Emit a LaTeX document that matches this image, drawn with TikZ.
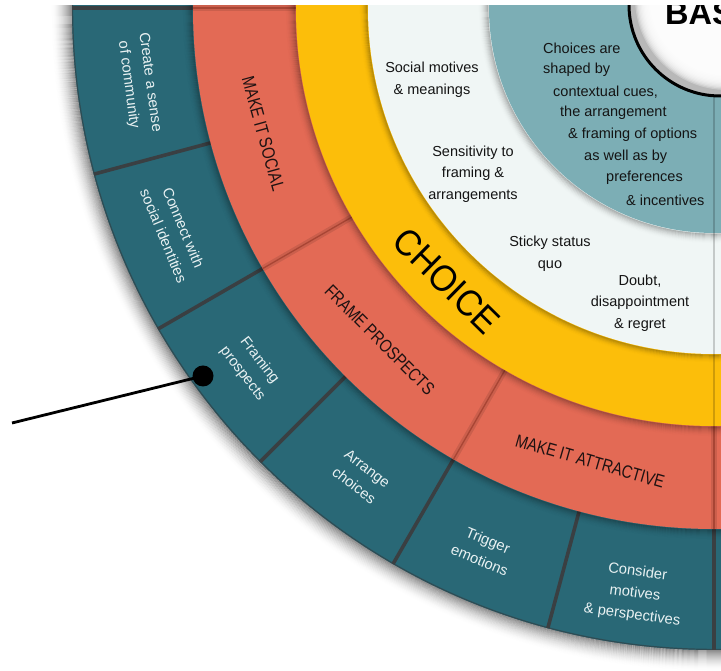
\documentclass[tikz,border=0pt]{standalone}
\usepackage{fontspec}
\setmainfont{Liberation Sans}
\newfontfamily\narrowfont[FakeStretch=0.82]{Liberation Sans}
\newfontfamily\choicefont[FakeStretch=0.92]{Liberation Sans}
\definecolor{tealout}{HTML}{296876}
\definecolor{divout}{HTML}{3A3F42}
\definecolor{rimcol}{HTML}{2E4C54}
\definecolor{coral}{HTML}{E36A55}
\definecolor{reddiv}{HTML}{A84534}
\definecolor{yell}{HTML}{FCBE0A}
\definecolor{whitering}{HTML}{F0F6F5}
\definecolor{tealin}{HTML}{7CAEB5}
\definecolor{wtext}{HTML}{E8F1F2}
\definecolor{rtext}{HTML}{1E1212}
\newcommand\ringshadow[2]{%
  \foreach \i in {1,...,#2}{\pgfmathsetmacro\op{0.3*(1-\i/(#2+1))^2}%
    \draw[black,opacity=\op,line width=1.1] (0,0) circle ({#1+\i});}}
\tikzset{
  outtext/.style={font=\fontsize{14.8}{21.5}\selectfont, text=wtext, align=center, inner sep=0},
  redtext/.style={font=\narrowfont\fontsize{18}{20}\selectfont, text=rtext, inner sep=0},
  intext/.style={font=\fontsize{14.5}{21.5}\selectfont, text=black!92, align=center, inner sep=0},
  inline/.style={font=\fontsize{14.5}{21.5}\selectfont, text=black!92, anchor=west, inner sep=0},
  dividerout/.style={divout, line width=3.6},
  dividerred/.style={reddiv, line width=1.3},
  seam/.style={black, opacity=0.18, line width=2}
}
\begin{document}
\begin{tikzpicture}[x=1pt,y=1pt]
\useasboundingbox (0,0) rectangle (721,671);
\fill[white] (0,0) rectangle (721,671);
\begin{scope}
\clip (0,0) rectangle (721,665);
\begin{scope}[shift={(714,663)}]
  % outer drop shadow
  \foreach \i in {1,...,22}{\pgfmathsetmacro\op{0.45*(1-\i/23)^2}%
    \draw[black,opacity=\op,line width=1.1] (0,0) circle ({641+\i});}
  % outer teal ring
  \fill[tealout] (0,0) circle (642);
  \draw[rimcol, line width=1.2] (0,0) circle (641.4);
  \foreach \a in {0,15,...,90} \draw[dividerout] (180+\a:500) -- (180+\a:642);
  % red ring
  \ringshadow{521}{10}
  \fill[coral] (0,0) circle (521);
  \foreach \a in {0,30,60,90}{
    \draw[black, opacity=0.1, line width=6] (180+\a:410) -- (180+\a:521);
    \draw[dividerred] (180+\a:410) -- (180+\a:521);}
  % yellow ring
  \ringshadow{418}{10}
  \fill[yell] (0,0) circle (418);
  \draw[seam] (270:340) -- (270:418);
  % white ring
  \ringshadow{346}{8}
  \fill[whitering] (0,0) circle (346);
  \draw[seam] (270:220) -- (270:346);
  % inner teal
  \ringshadow{225}{10}
  \fill[tealin] (0,0) circle (225);
  \draw[seam] (270:80) -- (270:225);
  % outer ring texts
  \node[outtext, rotate=-82.5] (create) at (187.5:580) {Create a sense\\of community};
  \node[outtext, rotate=-67.5] (connect) at (202.5:585) {Connect with\\social identities};
  \node[outtext, rotate=-52.5] (framing) at (217.8:586) {Framing\\prospects};
  \node[outtext, rotate=-37.5] (arrange) at (233:587) {Arrange\\choices};
  \node[outtext, rotate=-22.5] (trigger) at (247:589) {Trigger\\emotions};
  \node[outtext, rotate=-7.5] (consider) at (262.3:591) {Consider\\motives\\\& perspectives};
  % red ring texts
  \node[redtext, rotate=-74.5] (social) at (195.6:468) {MAKE IT SOCIAL};
  \node[redtext, rotate=-45] (frame) at (224.8:471) {FRAME PROSPECTS};
  \node[redtext, rotate=-16] (attract) at (254.7:470) {MAKE IT ATTRACTIVE};
  % yellow ring text
  \node[font=\choicefont\fontsize{37}{40}\selectfont, text=black, rotate=-44.5, inner sep=0] (choice) at (225.6:382) {CHOICE};
\end{scope}
% central ball
\begin{scope}
  \clip (720,666) circle (91);
  \fill[black!28] (720,666) circle (91);
  \foreach \i in {0,...,14} \fill[white, opacity=0.27] (727,673) circle ({92-1.3*\i});
\end{scope}
\draw[black, line width=3] (720,666) circle (91);
\node[font=\bfseries\fontsize{32.5}{36}\selectfont, anchor=base west, inner sep=0] (title) at (665,646) {BAS};
\end{scope}
% inner texts
\node[intext] (motives) at (432,591) {Social motives\\\& meanings};
\node[intext] (sensitivity) at (473,497) {Sensitivity to\\framing \&\\arrangements};
\node[intext] (sticky) at (550,417) {Sticky status\\quo};
\node[intext] (doubt) at (640,368) {Doubt,\\disappointment\\\& regret};
\node[inline] (c1) at (543,623) {Choices are};
\node[inline] (c2) at (543,601) {shaped by};
\node[inline] (c3) at (553,579) {contextual cues,};
\node[inline] (c4) at (560,558) {the arrangement};
\node[inline] (c5) at (568,536) {\& framing of options};
\node[inline] (c6) at (584,514) {as well as by};
\node[inline] (c7) at (606,493) {preferences};
\node[inline] (c8) at (626,471) {\& incentives};
% pointer
\node[circle, fill=black, inner sep=0, minimum size=21] (dot) at (203,295) {};
\coordinate (lend) at (12,248);
\draw[black, line width=2.8] (lend) -- (dot.center);
\end{tikzpicture}
\end{document}
